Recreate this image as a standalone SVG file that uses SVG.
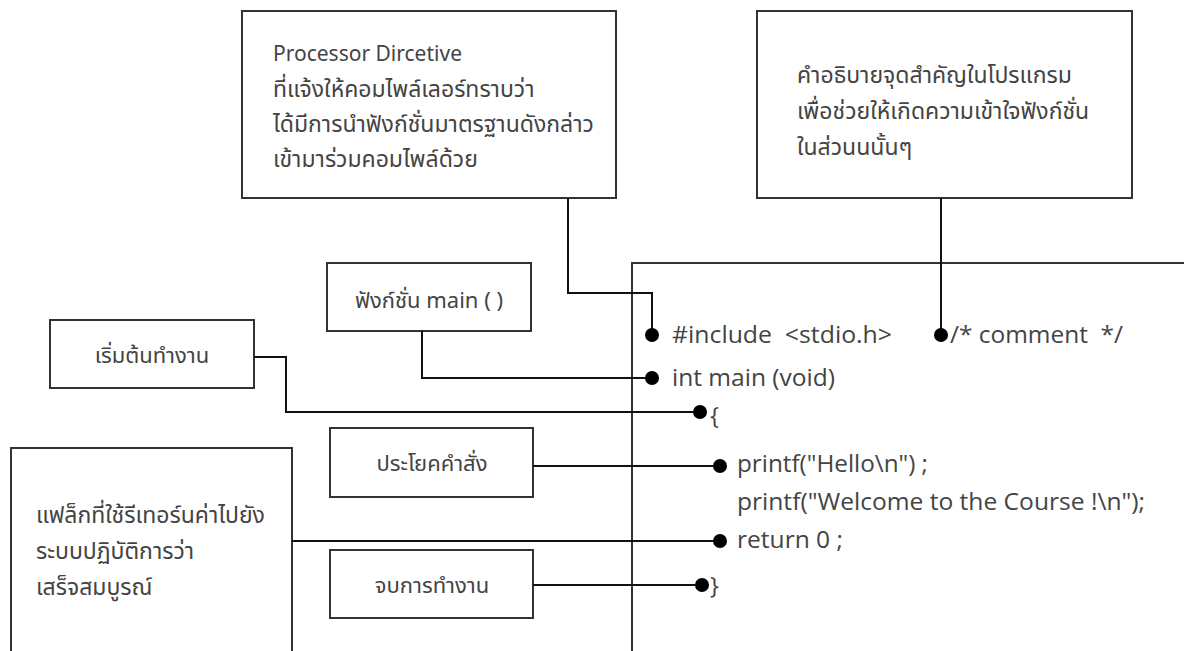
<svg xmlns="http://www.w3.org/2000/svg" width="1184" height="651" viewBox="0 0 1184 651">
<style>
.box{fill:#fff;stroke:#333;stroke-width:2}
.th{font-family:"Noto Sans Thai","Noto Sans","DejaVu Sans",sans-serif;font-size:23px;fill:#444}
.lbl{font-size:22px}
.lat{font-size:21px}
.code{font-family:"Open Sans","Noto Sans",sans-serif;font-size:24px;fill:#444;white-space:pre}
.wire{fill:none;stroke:#111;stroke-width:2}
.mid{text-anchor:middle}
</style>
<defs>
<marker id="dot" markerUnits="userSpaceOnUse" markerWidth="16" markerHeight="16" refX="8" refY="8" orient="auto">
<circle cx="8" cy="8" r="7" fill="#000"/>
</marker>
</defs>
<rect width="1184" height="651" fill="#fff"/>

<g id="code-box">
<path d="M632,651 V263 H1184" fill="none" stroke="#333" stroke-width="2"/>
<text class="code" x="672" y="343" textLength="220" lengthAdjust="spacingAndGlyphs">#include  &lt;stdio.h&gt;</text>
<text class="code" x="950" y="343" textLength="173" lengthAdjust="spacingAndGlyphs">/* comment  */</text>
<text class="code" x="672" y="386" textLength="163" lengthAdjust="spacingAndGlyphs">int main (void)</text>
<text class="code" x="710" y="424">{</text>
<text class="code" x="737" y="472" textLength="191" lengthAdjust="spacingAndGlyphs">printf("Hello\n") ;</text>
<text class="code" x="737" y="510" textLength="408" lengthAdjust="spacingAndGlyphs">printf("Welcome to the Course !\n");</text>
<text class="code" x="737" y="548" textLength="106" lengthAdjust="spacingAndGlyphs">return 0 ;</text>
<text class="code" x="710" y="594">}</text>
</g>

<g id="node-directive">
<rect class="box" x="242" y="11" width="374" height="187"/>
<text class="th lat" x="273" y="61">Processor Dircetive</text>
<text class="th" x="273" y="97">ที่แจ้งให้คอมไพล์เลอร์ทราบว่า</text>
<text class="th" x="273" y="132">ได้มีการนำฟังก์ชั่นมาตรฐานดังกล่าว</text>
<text class="th" x="273" y="167">เข้ามาร่วมคอมไพล์ด้วย</text>
</g>

<g id="node-comment">
<rect class="box" x="757" y="11" width="375" height="187"/>
<text class="th" x="797" y="83">คำอธิบายจุดสำคัญในโปรแกรม</text>
<text class="th" x="797" y="119">เพื่อช่วยให้เกิดความเข้าใจฟังก์ชั่น</text>
<text class="th" x="797" y="155">ในส่วนนนั้นๆ</text>
</g>

<g id="node-main">
<rect class="box" x="327" y="263" width="204" height="68"/>
<text class="th lbl mid" x="429" y="308">ฟังก์ชั่น main ( )</text>
</g>

<g id="node-start">
<rect class="box" x="50" y="320" width="204" height="68"/>
<text class="th lbl mid" x="152" y="363">เริ่มต้นทำงาน</text>
</g>

<g id="node-statement">
<rect class="box" x="330" y="428" width="203" height="69"/>
<text class="th lbl mid" x="432" y="471">ประโยคคำสั่ง</text>
</g>

<g id="node-return">
<rect class="box" x="11" y="448" width="281" height="210"/>
<text class="th" x="36" y="523">แฟล็กที่ใช้รีเทอร์นค่าไปยัง</text>
<text class="th" x="36" y="559">ระบบปฏิบัติการว่า</text>
<text class="th" x="36" y="595">เสร็จสมบูรณ์</text>
</g>

<g id="node-end">
<rect class="box" x="330" y="550" width="203" height="68"/>
<text class="th lbl mid" x="432" y="593">จบการทำงาน</text>
</g>

<g id="connectors">
<path class="wire" d="M568,198 V293 H652 V335" marker-end="url(#dot)"/>
<path class="wire" d="M941,198 V335" marker-end="url(#dot)"/>
<path class="wire" d="M422,331 V378 H652" marker-end="url(#dot)"/>
<path class="wire" d="M254,357 H286 V412 H700" marker-end="url(#dot)"/>
<path class="wire" d="M533,466 H720" marker-end="url(#dot)"/>
<path class="wire" d="M292,541 H720" marker-end="url(#dot)"/>
<path class="wire" d="M533,585 H702" marker-end="url(#dot)"/>
</g>
</svg>
